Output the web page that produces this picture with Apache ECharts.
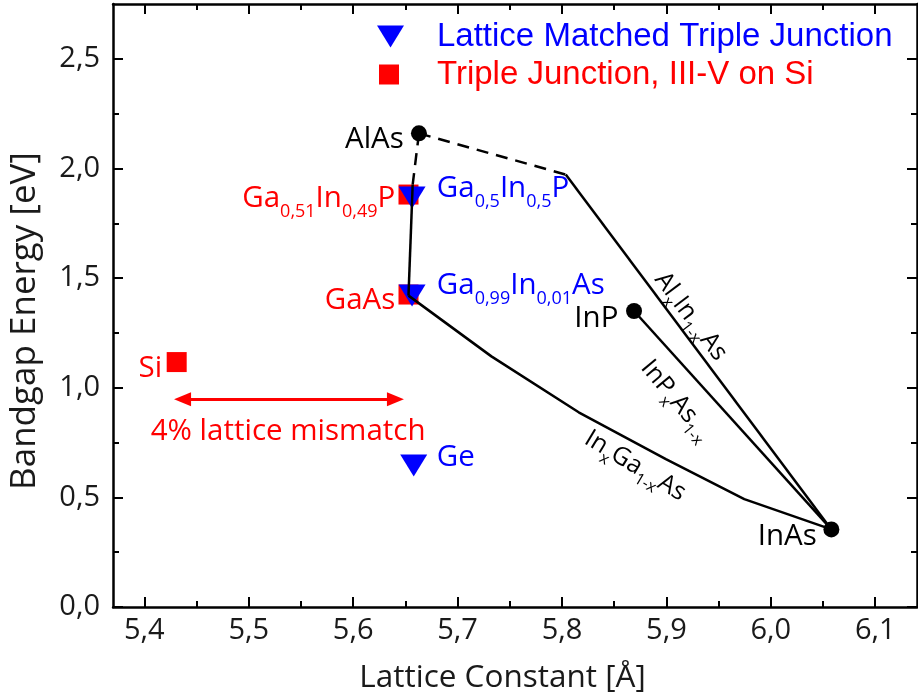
<!DOCTYPE html>
<html><head><meta charset="utf-8">
<script src="https://cdn.jsdelivr.net/npm/echarts@6/dist/echarts.min.js"></script>
<style>html,body{margin:0;padding:0;background:#fff}#c{width:918px;height:699px}</style>
</head><body><div id="c"></div>
<script>
// ---- tick values ----
const xMajorTicks = [5.4, 5.5, 5.6, 5.7, 5.8, 5.9, 6.0, 6.1];
const xMinorTicks = [5.45, 5.55, 5.65, 5.75, 5.85, 5.95, 6.05];
const yMajorTicks = [0, 0.5, 1.0, 1.5, 2.0, 2.5];
const yMinorTicks = [0.25, 0.75, 1.25, 1.75, 2.25];

// ---- data: [lattice constant (Å), bandgap (eV)] ----
const binaryNames = ['AlAs', 'InP', 'InAs'];
const binaryPoints = [[5.663, 2.16], [5.869, 1.35], [6.058, 0.354]];
const latticeMatchedNames = ['Ga0,5In0,5P', 'Ga0,99In0,01As', 'Ge'];
const latticeMatchedPoints = [[5.6564, 1.867], [5.6564, 1.421], [5.658, 0.645]];
const onSiNames = ['Ga0,51In0,49P', 'GaAs', 'Si'];
const onSiPoints = [[5.653, 1.881], [5.653, 1.425], [5.431, 1.117]];
const alGaAsIndirect = [[5.663, 2.16], [5.657, 1.926]];
const alGaAsDirect = [[5.657, 1.926], [5.653, 1.42]];
const alInAsIndirect = [[5.663, 2.16], [5.8036, 1.972]];
const alInAsDirect = [[5.8036, 1.972], [6.058, 0.354]];
const inPAs = [[5.869, 1.35], [6.058, 0.354]];
const inGaAs = [[5.653, 1.42], [5.7324, 1.143], [5.816, 0.888], [5.8995, 0.674], [5.9746, 0.492], [6.058, 0.354]];
const mismatchArrow = [[5.4366, 0.947], [5.6405, 0.947]];

const F = 'Open Sans';
const TXT = '#1a1a1a';
const fmt = v => Number(v).toFixed(1).replace('.', ',');
const triPath = 'path://M0,0L27,0L13.5,22Z';

function xAxisCfg(pos, ticks, len, main) {
  return {
    type: 'value', position: pos, min: 5.37, max: 6.14,
    axisLine: { show: main, onZero: false, lineStyle: { color: '#000', width: 2.5 } },
    axisTick: { show: true, inside: true, length: len, customValues: ticks, lineStyle: { color: '#000', width: 2 } },
    axisLabel: { show: false },
    splitLine: { show: false }
  };
}
function yAxisCfg(pos, ticks, len, main) {
  return {
    type: 'value', position: pos, min: 0, max: 2.75,
    axisLine: { show: main, onZero: false, lineStyle: { color: '#000', width: 2.5 } },
    axisTick: { show: true, inside: true, length: len, customValues: ticks, lineStyle: { color: '#000', width: 2 } },
    axisLabel: { show: false },
    splitLine: { show: false }
  };
}

const xB = xAxisCfg('bottom', xMajorTicks, 10, true);
xB.axisLabel = { show: true, customValues: xMajorTicks, formatter: fmt, fontFamily: F, fontSize: 29, color: TXT, margin: 9 };
xB.name = 'Lattice Constant [Å]';
xB.nameLocation = 'middle';
xB.nameGap = 55;
xB.nameTextStyle = { fontFamily: F, fontSize: 31.5, color: TXT, padding: [0, 25, 0, 0] };

const yL = yAxisCfg('left', yMajorTicks, 10, true);
yL.axisLabel = { show: true, customValues: yMajorTicks, formatter: fmt, fontFamily: F, fontSize: 29, color: TXT, margin: 13 };
yL.name = 'Bandgap Energy [eV]';
yL.nameLocation = 'middle';
yL.nameGap = 70;
yL.nameTextStyle = { fontFamily: F, fontSize: 35, color: TXT, padding: [0, 31, 0, 0] };

const option = {
  animation: false,
  backgroundColor: '#fff',
  grid: { left: 108, top: 4, width: 809, height: 604, containLabel: false },
  xAxis: [xB, xAxisCfg('bottom', xMinorTicks, 6, false), xAxisCfg('top', xMajorTicks, 10, true), xAxisCfg('top', xMinorTicks, 6, false)],
  yAxis: [yL, yAxisCfg('left', yMinorTicks, 6, false), yAxisCfg('right', yMajorTicks, 10, true), yAxisCfg('right', yMinorTicks, 6, false)],
  legend: {
    orient: 'vertical', left: 377, top: 20, padding: 0,
    itemWidth: 55, itemHeight: 22, itemGap: 5, selectedMode: false,
    textStyle: { fontFamily: 'Liberation Sans', fontSize: 33 },
    data: [
      { name: 'Lattice Matched Triple Junction', icon: 'path://M55,22M0,0L27,0L13.5,22Z', itemStyle: { opacity: 1 }, textStyle: { color: '#0000ff' } },
      { name: 'Triple Junction, III-V on Si', icon: 'path://M55,22M0,0M2,1L22,1L22,21L2,21Z', itemStyle: { opacity: 1 }, textStyle: { color: '#ff0000' } }
    ]
  },
  series: [
    { type: 'line', name: 'AlGaAs (indirect)', data: alGaAsIndirect, symbol: 'none', lineStyle: { color: '#000', width: 2.5, type: [12, 8] } },
    { type: 'line', name: 'AlGaAs', data: alGaAsDirect, symbol: 'none', lineStyle: { color: '#000', width: 2.5 } },
    { type: 'line', name: 'AlInAs (indirect)', data: alInAsIndirect, symbol: 'none', lineStyle: { color: '#000', width: 2.5, type: [12, 8] } },
    { type: 'line', name: 'AlInAs', data: alInAsDirect, symbol: 'none', lineStyle: { color: '#000', width: 2.5 } },
    { type: 'line', name: 'InPAs', data: inPAs, symbol: 'none', lineStyle: { color: '#000', width: 2.5 } },
    { type: 'line', name: 'InGaAs', data: inGaAs, symbol: 'none', lineStyle: { color: '#000', width: 2.5 } },
    { type: 'line', name: 'mismatch', data: [], color: '#ff0000',
      markLine: { silent: true, symbol: ['triangle', 'triangle'], symbolSize: [14, 17], label: { show: false },
        itemStyle: { color: '#ff0000' }, lineStyle: { color: '#ff0000', width: 3, type: 'solid' },
        data: [[{ coord: mismatchArrow[0] }, { coord: mismatchArrow[1] }]] } },
    { type: 'scatter', name: 'Triple Junction, III-V on Si', data: onSiPoints, symbol: 'rect', symbolSize: 20, itemStyle: { color: '#ff0000', opacity: 1 } },
    { type: 'scatter', name: 'Lattice Matched Triple Junction', data: latticeMatchedPoints, symbol: triPath, symbolSize: [27, 22], itemStyle: { color: '#0000ff', opacity: 1 } },
    { type: 'scatter', name: 'Binary compounds', data: binaryPoints, symbol: 'circle', symbolSize: 16, itemStyle: { color: '#000', opacity: 1 } }
  ]
};

const chart = echarts.init(document.getElementById('c'));
chart.setOption(option);

// ---- annotation texts ----
const pointLabels = [
  { text: '{m|AlAs}', at: [5.6485, 2.131], align: 'right', color: '#000' },
  { text: '{m|Ga}{s|0,51}{m|In}{s|0,49}{m|P}', at: [5.6403, 1.8625], align: 'right', color: '#ff0000' },
  { text: '{m|GaAs}', at: [5.6403, 1.398], align: 'right', color: '#ff0000' },
  { text: '{m|Ga}{s|0,5}{m|In}{s|0,5}{m|P}', at: [5.6801, 1.908], align: 'left', color: '#0000ff' },
  { text: '{m|Ga}{s|0,99}{m|In}{s|0,01}{m|As}', at: [5.6801, 1.466], align: 'left', color: '#0000ff' },
  { text: '{m|InP}', at: [5.854, 1.316], align: 'right', color: '#000' },
  { text: '{m|InAs}', at: [6.044, 0.319], align: 'right', color: '#000' },
  { text: '{m|Si}', at: [5.4171, 1.088], align: 'right', color: '#ff0000' },
  { text: '{m|Ge}', at: [5.6801, 0.683], align: 'left', color: '#0000ff' },
  { text: '{m|4% lattice mismatch}', at: [5.5377, 0.799], align: 'center', color: '#ff0000' }
];
const lineLabels = [
  { text: '{m|Al}{s|x}{m|In}{s|1-x}{m|As}', at: [5.9233, 1.325], angle: -53 },
  { text: '{m|InP}{s|x}{m|As}{s|1-x}', at: [5.9095, 0.943], angle: -50 },
  { text: '{m|In}{s|x}{m|Ga}{s|1-x}{m|As}', at: [5.870, 0.644], angle: -31 }
];

const toPx = p => chart.convertToPixel({ xAxisIndex: 0, yAxisIndex: 0 }, p);
const graphics = [];
pointLabels.forEach(l => {
  const p = toPx(l.at);
  graphics.push({
    type: 'text', x: p[0], y: p[1], z: 100, silent: true,
    style: {
      text: l.text, align: l.align, verticalAlign: 'middle', fill: l.color, fontFamily: F, fontSize: 29.5,
      rich: {
        m: { fontFamily: F, fontSize: 29.5, fill: l.color },
        s: { fontFamily: F, fontSize: 18, fill: l.color, padding: [27, 0, 0, 0] }
      }
    }
  });
});
lineLabels.forEach(l => {
  const p = toPx(l.at);
  graphics.push({
    type: 'text', x: p[0], y: p[1], z: 100, silent: true, rotation: l.angle * Math.PI / 180,
    style: {
      text: l.text, align: 'center', verticalAlign: 'middle', fill: '#000', fontFamily: F, fontSize: 25,
      rich: {
        m: { fontFamily: F, fontSize: 25, fill: '#000' },
        s: { fontFamily: F, fontSize: 16, fill: '#000', padding: [20, 0, 0, 0] }
      }
    }
  });
});
chart.setOption({ graphic: graphics });
</script>
</body></html>
